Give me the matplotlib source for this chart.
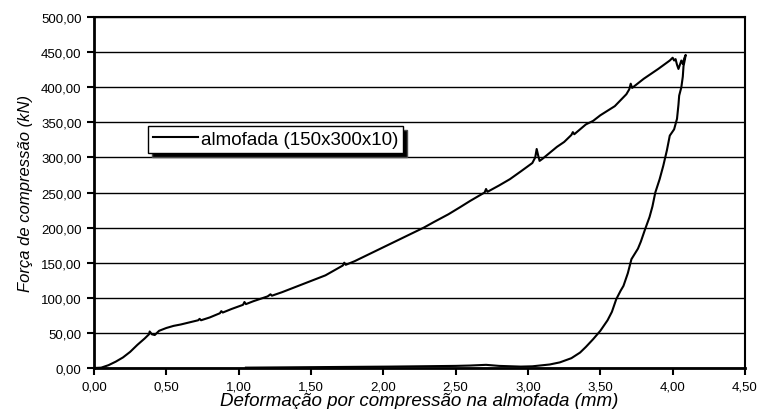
import matplotlib.pyplot as plt
import matplotlib.patches as mpatches
from matplotlib.lines import Line2D
from matplotlib.ticker import FuncFormatter
import numpy as np

plt.rcParams["font.family"] = ["Liberation Sans", "DejaVu Sans"]

# ramo de carga (mm, kN)
x_carga = [0.00, 0.05, 0.10, 0.15, 0.20, 0.25, 0.30, 0.35, 0.38, 0.385, 0.40, 0.42,
           0.45, 0.50, 0.55, 0.60, 0.66, 0.72, 0.73, 0.74, 0.80, 0.87, 0.88, 0.89,
           0.95, 1.03, 1.04, 1.05, 1.10, 1.20, 1.22, 1.23, 1.30, 1.40, 1.50, 1.60,
           1.72, 1.73, 1.74, 1.80, 1.90, 2.00, 2.05, 2.10, 2.20, 2.28, 2.35, 2.45,
           2.53, 2.60, 2.70, 2.71, 2.72, 2.80, 2.875, 2.95, 3.03, 3.05, 3.06, 3.07,
           3.08, 3.10, 3.20, 3.25, 3.30, 3.31, 3.32, 3.40, 3.45, 3.50, 3.60, 3.68,
           3.70, 3.71, 3.72, 3.80, 3.90, 3.98, 4.00, 4.01, 4.02, 4.03, 4.04, 4.05,
           4.06, 4.07, 4.08, 4.09]
f_carga = [0.0, 0.5, 4, 9, 15, 23, 33, 42, 48, 52, 48, 47,
           53, 57, 60, 62, 65, 68, 70, 68, 72, 78, 81, 79,
           84, 90, 94, 91, 95, 102, 105, 103, 108, 116, 124, 132,
           146, 150, 147, 152, 162, 172, 177, 182, 192, 200, 208, 219,
           229, 238, 250, 255, 251, 260, 269, 280, 292, 300, 312, 303,
           295, 298, 315, 322, 332, 336, 333, 347, 352, 360, 373, 390,
           397, 405, 399, 412, 426, 438, 442, 438, 440, 432, 426, 432,
           438, 433, 441, 446]

# ramo de descarga
x_descarga = [4.085, 4.075, 4.07, 4.06, 4.045, 4.04, 4.03, 4.01, 3.98, 3.96, 3.935,
              3.91, 3.88, 3.86, 3.84, 3.81, 3.78, 3.76, 3.715, 3.69, 3.66, 3.64,
              3.61, 3.58, 3.55, 3.50, 3.45, 3.40, 3.36, 3.30, 3.22, 3.15, 3.03,
              2.95, 2.80, 2.71, 2.60, 2.50, 2.30, 2.05, 1.70, 1.40, 1.05]
f_descarga = [440, 430, 415, 400, 388, 375, 355, 340, 331, 310, 288,
              269, 250, 230, 215, 198, 180, 170, 155, 135, 117, 110,
              98, 80, 68, 53, 41, 30, 22, 14, 8, 5, 2.4,
              2.0, 3.0, 4.5, 3.5, 3.0, 2.5, 2.0, 1.5, 1.0, 0.5]

xs = np.array(x_carga + x_descarga)
fs = np.array(f_carga + f_descarga)

fig = plt.figure(figsize=(7.58, 4.10), dpi=100)
ax = fig.add_axes([94/758, 1-369/410, (745-94)/758, (369-18)/410])

ax.plot(xs, fs, color='k', linewidth=1.5, solid_joinstyle='round')

ax.set_xlim(0, 4.5)
ax.set_ylim(0, 500)
ax.set_xticks(np.arange(0, 4.51, 0.5))
ax.set_yticks(np.arange(0, 501, 50))
virgula = FuncFormatter(lambda v, p: ('%.2f' % v).replace('.', ','))
ax.xaxis.set_major_formatter(virgula)
ax.yaxis.set_major_formatter(virgula)
ax.tick_params(direction='out', length=5, width=1.5, labelsize=9.5, pad=4,
               colors='k')
ax.yaxis.grid(True, color='k', linewidth=1)
ax.set_axisbelow(True)

for s in ['left', 'bottom']:
    ax.spines[s].set_linewidth(2)
for s in ['top', 'right']:
    ax.spines[s].set_linewidth(1.5)

ax.set_xlabel('Deformação por compressão na almofada (mm)', fontsize=13.5,
              style='italic', labelpad=0)
ax.set_ylabel('Força de compressão (kN)', fontsize=12, style='italic',
              labelpad=6)

h = Line2D([], [], color='k', linewidth=1.5)
leg = ax.legend([h], ['almofada (150x300x10)'], loc='upper left',
                bbox_to_anchor=(0.083, 0.689), borderaxespad=0, fontsize=13.5,
                handlelength=2.4, handletextpad=0.15, borderpad=0.25,
                fancybox=False, framealpha=1, edgecolor='k')
leg.get_frame().set_linewidth(1)

fig.canvas.draw()
sombra = mpatches.Shadow(leg.legendPatch, 3, -3, facecolor='k', alpha=1)
sombra.set_zorder(4.9)
ax.add_patch(sombra)

fig.savefig('out.png', dpi=100)
